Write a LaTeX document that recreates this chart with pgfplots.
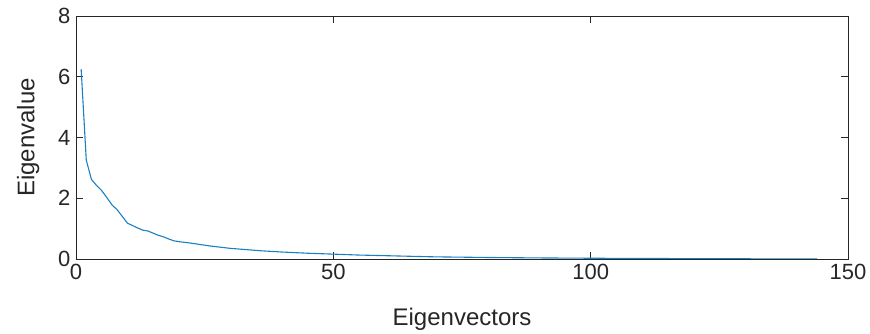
\documentclass[border=0pt]{standalone}
\usepackage{pgfplots}
\pgfplotsset{compat=1.18}
\usepackage{fontspec}
\setmainfont{Liberation Sans}
\definecolor{mblue}{rgb}{0.1,0.5,0.76}
\definecolor{axgray}{rgb}{0.15,0.15,0.15}
\begin{document}
\begin{tikzpicture}
\begin{axis}[
  scale only axis,
  width=772pt, height=243pt,
  xmin=0, xmax=150, ymin=0, ymax=8,
  xtick={0,50,100,150}, ytick={0,2,4,6,8},
  tick align=inside,
  major tick length=7pt,
  axis line style={axgray, line width=0.9pt},
  tick style={axgray, line width=0.9pt},
  tick label style={font=\fontsize{22}{26}\selectfont, text=axgray},
  label style={font=\fontsize{24}{28}\selectfont, text=axgray},
  /pgf/number format/assume math mode=true,
  xlabel={Eigenvectors}, ylabel={Eigenvalue},
  xlabel style={at={(axis description cs:0.5,0)}, anchor=north, yshift=-46pt},
  ylabel style={at={(axis description cs:0,0.5)}, anchor=south, yshift=33pt},
  xticklabel style={yshift=-2pt},
  yticklabel style={xshift=-2pt},
]
\addplot[mblue, line width=1.1pt] coordinates {
(1,6.25) (2,3.25) (3,2.62) (4,2.42) (5,2.25) (6,2.02) (7,1.78) (8,1.62)
(9,1.40) (10,1.18) (11,1.10) (12,1.02) (13,0.95) (14,0.92) (15,0.85)
(16,0.78) (17,0.73) (18,0.66) (19,0.60) (20,0.57) (22,0.53) (24,0.48)
(26,0.43) (28,0.39) (30,0.35) (33,0.31) (36,0.27) (40,0.23) (45,0.19)
(50,0.16) (55,0.13) (60,0.11) (66,0.085) (70,0.07) (80,0.05) (90,0.035)
(100,0.025) (110,0.018) (120,0.012) (130,0.007) (140,0.003) (144,0.001)
};
\end{axis}
\pgfresetboundingbox
\path[use as bounding box] ([shift={(-76pt,-75pt)}]current axis.south west) rectangle ([shift={(22pt,16pt)}]current axis.north east);
\end{tikzpicture}
\end{document}
